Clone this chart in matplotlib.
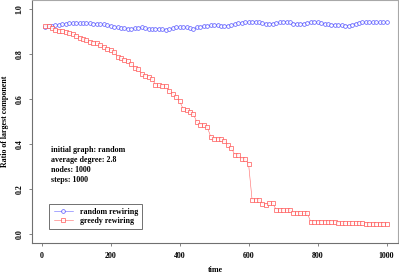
import matplotlib
matplotlib.use('Agg')
from matplotlib import pyplot as plt

# time steps (every 10 steps)
time = list(range(10, 1001, 10))

# ratio of largest component, random rewiring
random_rewiring = [
    0.923, 0.925, 0.926, 0.929, 0.930, 0.933, 0.935, 0.938, 0.938, 0.938,
    0.938, 0.937, 0.937, 0.937, 0.935, 0.935, 0.933, 0.933, 0.929, 0.927,
    0.923, 0.919, 0.916, 0.916, 0.914, 0.914, 0.916, 0.917, 0.919, 0.916,
    0.912, 0.911, 0.912, 0.914, 0.911, 0.909, 0.912, 0.916, 0.920, 0.920,
    0.920, 0.919, 0.916, 0.911, 0.919, 0.923, 0.926, 0.927, 0.929, 0.930,
    0.930, 0.927, 0.926, 0.927, 0.929, 0.935, 0.938, 0.939, 0.941, 0.941,
    0.944, 0.944, 0.941, 0.939, 0.936, 0.935, 0.936, 0.938, 0.942, 0.945,
    0.944, 0.941, 0.936, 0.935, 0.935, 0.936, 0.939, 0.944, 0.945, 0.942,
    0.939, 0.936, 0.933, 0.932, 0.932, 0.930, 0.929, 0.927, 0.927, 0.932,
    0.936, 0.939, 0.941, 0.941, 0.941, 0.941, 0.941, 0.941, 0.941, 0.941,
]

# ratio of largest component, greedy rewiring
greedy_rewiring = [
    0.926, 0.924, 0.916, 0.908, 0.905, 0.901, 0.898, 0.893, 0.890, 0.883,
    0.874, 0.868, 0.861, 0.856, 0.852, 0.850, 0.841, 0.832, 0.824, 0.818,
    0.812, 0.789, 0.782, 0.776, 0.769, 0.757, 0.740, 0.735, 0.712, 0.705,
    0.700, 0.692, 0.664, 0.662, 0.659, 0.658, 0.637, 0.625, 0.610, 0.591,
    0.558, 0.552, 0.544, 0.533, 0.499, 0.487, 0.487, 0.477, 0.434, 0.425,
    0.424, 0.424, 0.416, 0.397, 0.382, 0.354, 0.354, 0.335, 0.335, 0.311,
    0.154, 0.154, 0.154, 0.136, 0.132, 0.138, 0.138, 0.108, 0.108, 0.107,
    0.107, 0.107, 0.096, 0.096, 0.093, 0.093, 0.093, 0.056, 0.056, 0.056,
    0.056, 0.056, 0.056, 0.056, 0.056, 0.052, 0.049, 0.049, 0.049, 0.049,
    0.049, 0.049, 0.049, 0.046, 0.046, 0.046, 0.046, 0.046, 0.046, 0.046,
]

info_lines = ['initial graph: random', 'average degree: 2.8',
              'nodes: 1000', 'steps: 1000']
info_y = [0.374, 0.330, 0.284, 0.239]

xticks = [0, 200, 400, 600, 800, 1000]
yticks = [0.0, 0.2, 0.4, 0.6, 0.8, 1.0]

plt.rcParams['font.family'] = ['Liberation Serif', 'DejaVu Serif']
plt.rcParams['font.weight'] = 'bold'
fs = 5.7

fig = plt.figure(figsize=(3.99, 2.74), dpi=100)
W, H = 399.0, 274.0
ax = fig.add_axes([32.3 / W, 1 - 243 / H, (398 - 32.3) / W, 243 / H])

blue = '#4a4aff'
red = '#ff4a4a'
ax.plot(time, random_rewiring, color=blue, lw=0.4, alpha=0.85, marker='o',
        ms=2.7, mfc='white', mec=blue, mew=0.55, label='random rewiring')
ax.plot(time, greedy_rewiring, color=red, lw=0.4, alpha=0.85, marker='s',
        ms=2.5, mfc='white', mec=red, mew=0.55, label='greedy rewiring')

ax.set_xlim(-27, 1033)
ax.set_ylim(-0.039, 1.041)
ax.set_xticks(xticks)
ax.set_yticks(yticks)
ax.set_xticklabels([str(v) for v in xticks], fontsize=fs, fontweight='bold')
ax.set_yticklabels(['%.1f' % v for v in yticks], fontsize=fs,
                   fontweight='bold', rotation=90, va='center')
ax.tick_params(direction='out', length=2.2, width=0.6, color='#707070',
               pad=4.3)

for side in ['left', 'bottom']:
    ax.spines[side].set_color('#707070')
    ax.spines[side].set_linewidth(0.8)
for side in ['top', 'right']:
    ax.spines[side].set_color('#a8a8a8')
    ax.spines[side].set_linewidth(0.8)

for txt, yy in zip(info_lines, info_y):
    ax.text(26, yy, txt, fontsize=fs, fontweight='bold', va='center',
            ha='left')

leg = ax.legend(loc='lower left', bbox_to_anchor=(0.0465, 0.056),
                borderaxespad=0, fontsize=fs, numpoints=1, handlelength=2.4,
                handletextpad=0.9, borderpad=0.55, labelspacing=0.1,
                fancybox=False, framealpha=1)
leg.get_frame().set_edgecolor('#707070')
leg.get_frame().set_linewidth(0.7)

fig.text(215 / W, 1 - 269.5 / H, 'time', fontsize=fs, fontweight='bold',
         ha='center', va='center')
fig.text(5.5 / W, 1 - 121 / H, 'Ratio of largest component', fontsize=fs,
         fontweight='bold', ha='center', va='center', rotation=90)

fig.savefig('out.png', dpi=100)
